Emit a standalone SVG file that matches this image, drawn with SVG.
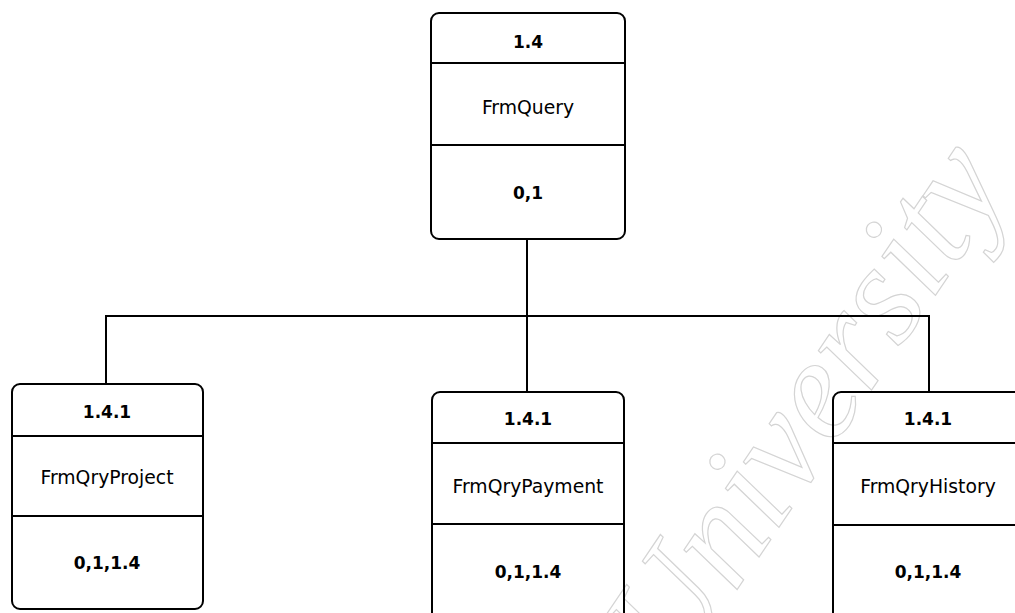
<svg xmlns="http://www.w3.org/2000/svg" width="1015" height="613" viewBox="0 0 1015 613">
  <style>
    .box { fill: none; stroke: #000; stroke-width: 2; }
    .div { stroke: #000; stroke-width: 2; }
    .wire { fill: none; stroke: #000; stroke-width: 2; }
    .num { font-family: "DejaVu Sans", Verdana, sans-serif; font-size: 17px; font-weight: bold; text-anchor: middle; fill: #000; }
    .name { font-family: "DejaVu Sans", Verdana, sans-serif; font-size: 18.8px; text-anchor: middle; fill: #000; }
    .mark { font-family: "Liberation Serif", serif; font-style: italic; font-size: 144px; fill: none; stroke: #d4d4d4; stroke-width: 1.2; }
  </style>
  <rect width="1015" height="613" fill="#fff"/>

  <!-- background watermark -->
  <text class="mark" transform="translate(676,680) rotate(-56)">University</text>

  <!-- connectors -->
  <g id="connectors">
    <path class="wire" d="M527,239 V392"/>
    <path class="wire" d="M105,316 H930"/>
    <path class="wire" d="M106,316 V384"/>
    <path class="wire" d="M929,316 V392"/>
  </g>

  <!-- 1.4 FrmQuery -->
  <g id="node-frmquery">
    <rect class="box" x="431" y="13" width="194" height="226" rx="8"/>
    <line class="div" x1="431" y1="63" x2="625" y2="63"/>
    <line class="div" x1="431" y1="145" x2="625" y2="145"/>
    <text class="num" x="528" y="48">1.4</text>
    <text class="name" x="528" y="114">FrmQuery</text>
    <text class="num" x="528" y="199">0,1</text>
  </g>

  <!-- 1.4.1 FrmQryProject -->
  <g id="node-frmqryproject">
    <rect class="box" x="12" y="384" width="191" height="225" rx="8"/>
    <line class="div" x1="12" y1="436" x2="203" y2="436"/>
    <line class="div" x1="12" y1="516" x2="203" y2="516"/>
    <text class="num" x="107" y="418">1.4.1</text>
    <text class="name" x="107" y="484">FrmQryProject</text>
    <text class="num" x="107" y="569">0,1,1.4</text>
  </g>

  <!-- 1.4.1 FrmQryPayment -->
  <g id="node-frmqrypayment">
    <rect class="box" x="432" y="392" width="192" height="240" rx="8"/>
    <line class="div" x1="432" y1="443" x2="624" y2="443"/>
    <line class="div" x1="432" y1="524" x2="624" y2="524"/>
    <text class="num" x="528" y="425">1.4.1</text>
    <text class="name" x="528" y="493">FrmQryPayment</text>
    <text class="num" x="528" y="578">0,1,1.4</text>
  </g>

  <!-- 1.4.1 FrmQryHistory -->
  <g id="node-frmqryhistory">
    <rect class="box" x="833" y="392" width="192" height="240" rx="8"/>
    <line class="div" x1="833" y1="443" x2="1025" y2="443"/>
    <line class="div" x1="833" y1="525" x2="1025" y2="525"/>
    <text class="num" x="928" y="425">1.4.1</text>
    <text class="name" x="928" y="493">FrmQryHistory</text>
    <text class="num" x="928" y="578">0,1,1.4</text>
  </g>
</svg>
